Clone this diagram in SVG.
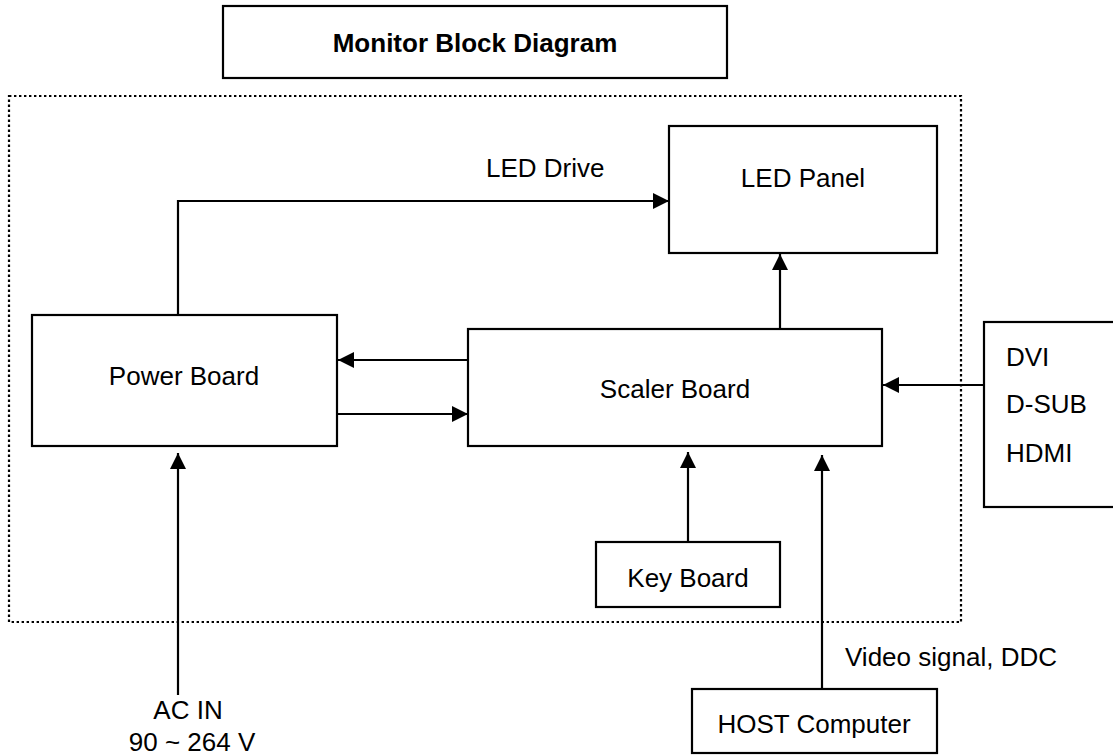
<svg xmlns="http://www.w3.org/2000/svg" width="1113" height="755" viewBox="0 0 1113 755">
<style>
.box{fill:#fff;stroke:#000;stroke-width:2.2}
.t{font-family:"Liberation Sans",Arial,sans-serif;font-size:26px;fill:#000}
.c{text-anchor:middle}
.conn{fill:none;stroke:#000;stroke-width:2.2}
</style>
<defs>
<marker id="ah" markerUnits="userSpaceOnUse" markerWidth="16" markerHeight="16" viewBox="0 0 15 15" refX="15" refY="7.5" orient="auto">
<path d="M0,0 L15,7.5 L0,15 Z" fill="#000"/>
</marker>
</defs>
<rect x="0" y="0" width="1113" height="755" fill="#fff"/>
<g id="boundary">
<rect x="9" y="96" width="952" height="526" fill="none" stroke="#000" stroke-width="2.2" stroke-dasharray="2.4 2.6"/>
</g>
<g id="title">
<rect class="box" x="223" y="6" width="504" height="72"/>
<text class="t c" x="475" y="52" font-weight="bold">Monitor Block Diagram</text>
</g>
<g id="connectors">
<path class="conn" d="M178,315 V201 H669" marker-end="url(#ah)"/>
<path class="conn" d="M780,329 V254" marker-end="url(#ah)"/>
<path class="conn" d="M468,360 H338" marker-end="url(#ah)"/>
<path class="conn" d="M337,414 H468" marker-end="url(#ah)"/>
<path class="conn" d="M984,385 H883" marker-end="url(#ah)"/>
<path class="conn" d="M688,542 V452" marker-end="url(#ah)"/>
<path class="conn" d="M822,689 V455" marker-end="url(#ah)"/>
<path class="conn" d="M178,695 V453" marker-end="url(#ah)"/>
<text class="t" x="486" y="177">LED Drive</text>
<text class="t" x="845" y="666">Video signal, DDC</text>
<text class="t c" x="188" y="719">AC IN</text>
<text class="t c" x="192" y="751">90 ~ 264 V</text>
</g>
<g id="led-panel">
<rect class="box" x="669" y="126" width="268" height="127"/>
<text class="t c" x="803" y="187">LED Panel</text>
</g>
<g id="power-board">
<rect class="box" x="32" y="315" width="305" height="131"/>
<text class="t c" x="184" y="385">Power Board</text>
</g>
<g id="scaler-board">
<rect class="box" x="468" y="329" width="414" height="117"/>
<text class="t c" x="675" y="398">Scaler Board</text>
</g>
<g id="key-board">
<rect class="box" x="596" y="542" width="184" height="65"/>
<text class="t c" x="688" y="587">Key Board</text>
</g>
<g id="host-computer">
<rect class="box" x="692" y="689" width="245" height="64"/>
<text class="t c" x="814" y="733">HOST Computer</text>
</g>
<g id="inputs">
<rect class="box" x="984" y="322" width="140" height="185"/>
<text class="t" x="1006" y="366">DVI</text>
<text class="t" x="1006" y="413">D-SUB</text>
<text class="t" x="1006" y="462">HDMI</text>
</g>
</svg>
